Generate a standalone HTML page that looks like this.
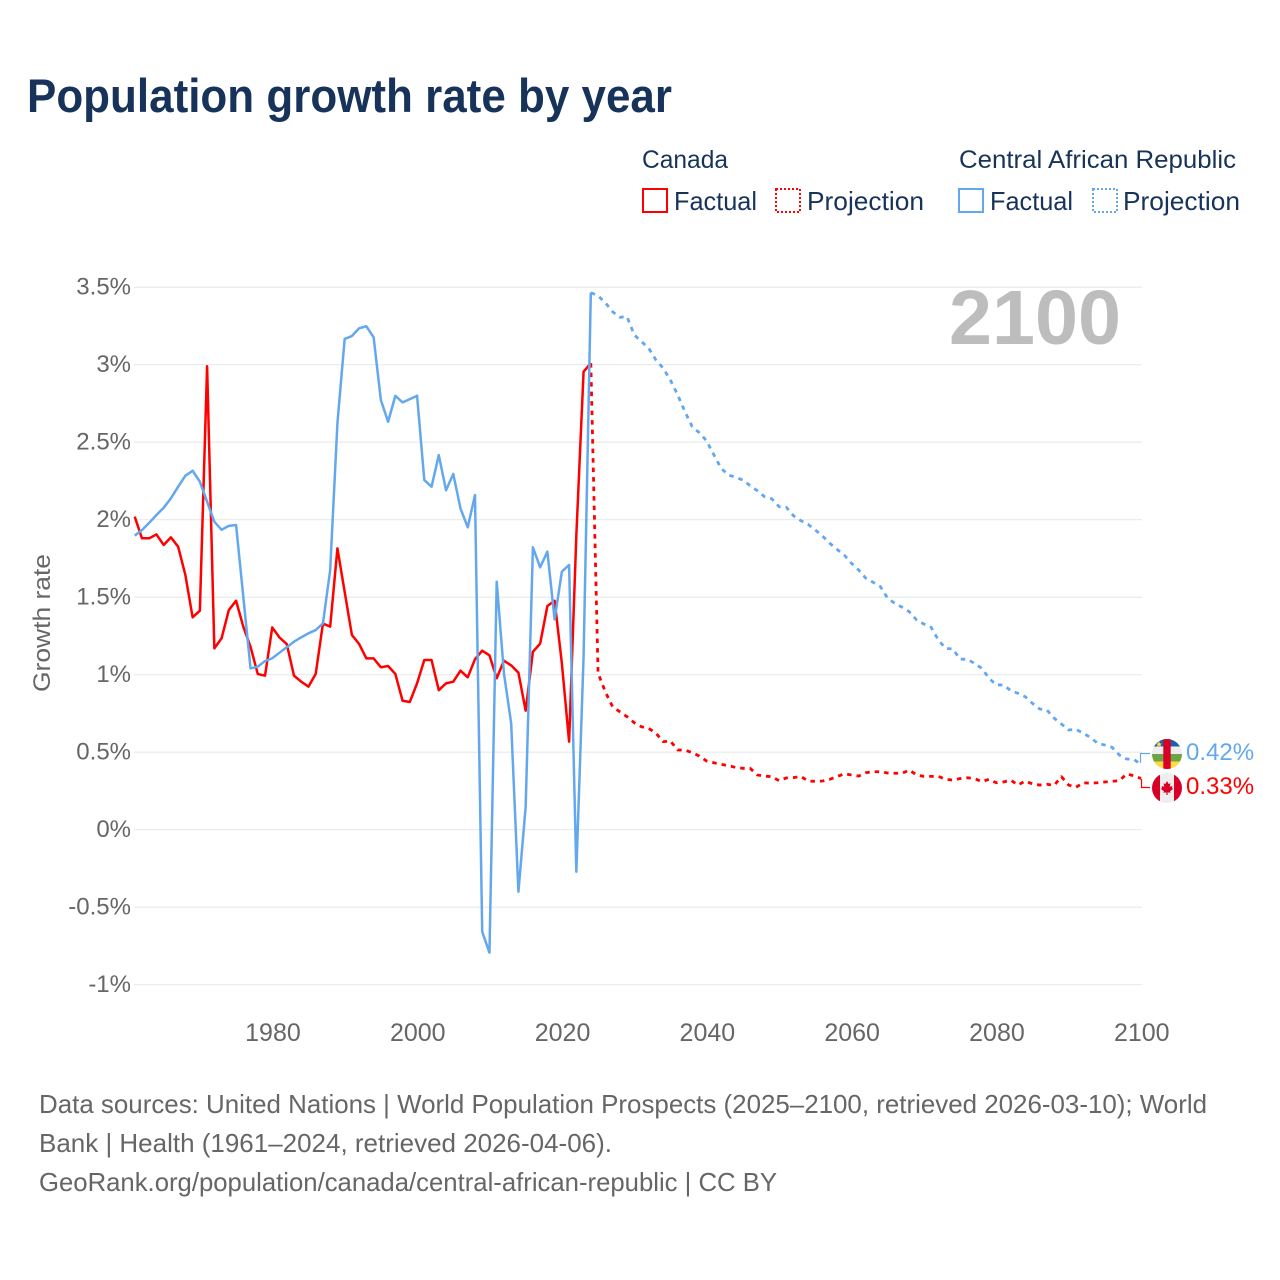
<!DOCTYPE html>
<html lang="en">
<head>
<meta charset="utf-8">
<title>Population growth rate by year</title>
<style>
html,body{margin:0;padding:0;background:#fff;}
svg{display:block;}
text{font-family:"Liberation Sans",sans-serif;}
</style>
</head>
<body>
<svg id="chart" xmlns="http://www.w3.org/2000/svg" width="1280" height="1280" viewBox="0 0 1280 1280">
  <rect x="0" y="0" width="1280" height="1280" fill="#ffffff"/>
  <text x="27" y="112" font-size="47" font-weight="700" fill="#18335a" textLength="645" lengthAdjust="spacingAndGlyphs">Population growth rate by year</text>

  <g>
    <text x="642" y="168" font-size="25" fill="#18335a" textLength="86" lengthAdjust="spacingAndGlyphs">Canada</text>
    <text x="959" y="168" font-size="25" fill="#18335a" textLength="277" lengthAdjust="spacingAndGlyphs">Central African Republic</text>
    <rect x="643" y="189" width="24" height="23" fill="none" stroke="#ff0000" stroke-width="2"/>
    <text x="674" y="210" font-size="26" fill="#18335a" textLength="83" lengthAdjust="spacingAndGlyphs">Factual</text>
    <rect x="776" y="189" width="24" height="23" fill="none" stroke="#ff0000" stroke-width="2" stroke-dasharray="2 2"/>
    <text x="807" y="210" font-size="26" fill="#18335a" textLength="117" lengthAdjust="spacingAndGlyphs">Projection</text>
    <rect x="959" y="189" width="24" height="23" fill="none" stroke="#63a8ef" stroke-width="2"/>
    <text x="990" y="210" font-size="26" fill="#18335a" textLength="83" lengthAdjust="spacingAndGlyphs">Factual</text>
    <rect x="1093" y="189" width="24" height="23" fill="none" stroke="#63a8ef" stroke-width="2" stroke-dasharray="2 2"/>
    <text x="1123" y="210" font-size="26" fill="#18335a" textLength="117" lengthAdjust="spacingAndGlyphs">Projection</text>
  </g>

  <g id="grid"></g>
  <g id="yticks"></g>
  <g id="xticks"></g>
  <text transform="translate(50,692) rotate(-90)" font-size="24" fill="#666666" textLength="138" lengthAdjust="spacingAndGlyphs">Growth rate</text>

  <text x="949" y="344" font-size="77" font-weight="700" fill="#bdbdbd" textLength="172" lengthAdjust="spacingAndGlyphs">2100</text>

  <g id="series"></g>

  <path d="M1140.5 763V753.5H1150" fill="none" stroke="#63a8ef" stroke-width="1.2"/>
  <path d="M1141.5 779V787.5H1150" fill="none" stroke="#ff0000" stroke-width="1.2"/>

  <defs>
    <clipPath id="clip-car"><circle cx="1167" cy="754" r="15"/></clipPath>
    <clipPath id="clip-can"><circle cx="1167" cy="788" r="15"/></clipPath>
  </defs>
  <g clip-path="url(#clip-car)">
    <rect x="1152" y="739" width="30" height="7.5" fill="#1f5fa8"/>
    <rect x="1152" y="746.5" width="30" height="7.5" fill="#eeeeee"/>
    <rect x="1152" y="754" width="30" height="7.5" fill="#6da544"/>
    <rect x="1152" y="761.5" width="30" height="7.5" fill="#ffda44"/>
    <rect x="1163.3" y="739" width="7.4" height="30" fill="#d80027"/>
    <polygon points="1159,741 1160,743.5 1162,743.5 1160.4,745 1161,747 1159,745.8 1157,747 1157.6,745 1156,743.5 1158,743.5" fill="#ffda44"/>
  </g>
  <g clip-path="url(#clip-can)">
    <rect x="1152" y="773" width="30" height="30" fill="#eeeeee"/>
    <rect x="1152" y="773" width="8" height="30" fill="#d80027"/>
    <rect x="1174" y="773" width="8" height="30" fill="#d80027"/>
    <polygon points="1167,781 1168.6,784 1170.4,783.2 1169.8,786.8 1172.4,786 1172,788 1173.2,788.8 1170,791.4 1170.6,792.8 1167.6,792.4 1167.6,795 1166.4,795 1166.4,792.4 1163.4,792.8 1164,791.4 1160.8,788.8 1162,788 1161.6,786 1164.2,786.8 1163.6,783.2 1165.4,784" fill="#d80027"/>
  </g>

  <text id="car-end-value" x="1186" y="760" font-size="24" fill="#63a8ef"></text>
  <text id="canada-end-value" x="1186" y="794" font-size="24" fill="#ff0000"></text>

  <g>
    <text x="39" y="1113" font-size="26" fill="#666666" textLength="1168" lengthAdjust="spacingAndGlyphs">Data sources: United Nations | World Population Prospects (2025–2100, retrieved 2026-03-10); World</text>
    <text x="39" y="1152" font-size="26" fill="#666666" textLength="573" lengthAdjust="spacingAndGlyphs">Bank | Health (1961–2024, retrieved 2026-04-06).</text>
    <text x="39" y="1191" font-size="26" fill="#666666" textLength="738" lengthAdjust="spacingAndGlyphs">GeoRank.org/population/canada/central-african-republic | CC BY</text>
  </g>
</svg>
<script>
const yTickValues = [-1, -0.5, 0, 0.5, 1, 1.5, 2, 2.5, 3, 3.5];
const yTickLabels = ['-1%', '-0.5%', '0%', '0.5%', '1%', '1.5%', '2%', '2.5%', '3%', '3.5%'];
const xTickYears = [1980, 2000, 2020, 2040, 2060, 2080, 2100];
const factualStartYear = 1961;
const projectionStartYear = 2024;
const canadaFactual = [
  2.02, 1.88, 1.88, 1.905, 1.837, 1.886, 1.826, 1.643, 1.37, 1.413,
  2.99, 1.17, 1.235, 1.417, 1.477, 1.31, 1.18, 1.004, 0.994, 1.305,
  1.24, 1.198, 0.994, 0.955, 0.923, 1.005, 1.33, 1.31, 1.815, 1.535,
  1.256, 1.198, 1.105, 1.105, 1.048, 1.056, 1.005, 0.832, 0.824, 0.944,
  1.095, 1.095, 0.90, 0.944, 0.955, 1.026, 0.983, 1.10, 1.155, 1.125,
  0.977, 1.09, 1.06, 1.013, 0.768, 1.148, 1.20, 1.443, 1.477, 1.073,
  0.568, 1.9, 2.955, 3.01
];
const carFactual = [
  1.897, 1.933, 1.98, 2.03, 2.077, 2.138, 2.213, 2.284, 2.316, 2.245,
  2.116, 1.987, 1.935, 1.96, 1.966, 1.503, 1.041, 1.052, 1.088, 1.106,
  1.142, 1.177, 1.213, 1.241, 1.267, 1.288, 1.331, 1.675, 2.622, 3.166,
  3.185, 3.235, 3.248, 3.177, 2.772, 2.632, 2.799, 2.757, 2.778, 2.80,
  2.256, 2.213, 2.417, 2.19, 2.295, 2.073, 1.951, 2.159, -0.658, -0.793,
  1.6, 1.009, 0.686, -0.4, 0.148, 1.822, 1.693, 1.794, 1.357, 1.665,
  1.708, -0.271, 1.116, 3.465
];
const canadaProjection = [
  3.01,
  1.01, 0.89, 0.794, 0.761, 0.729, 0.69, 0.664, 0.654, 0.622, 0.568,
  0.572, 0.514, 0.514, 0.497, 0.475, 0.443, 0.432, 0.422, 0.413, 0.402,
  0.396, 0.396, 0.353, 0.346, 0.342, 0.316, 0.334, 0.336, 0.344, 0.314,
  0.312, 0.314, 0.325, 0.342, 0.361, 0.353, 0.346, 0.368, 0.374, 0.374,
  0.366, 0.364, 0.364, 0.385, 0.353, 0.344, 0.344, 0.344, 0.325, 0.32,
  0.33, 0.335, 0.33, 0.31, 0.325, 0.303, 0.308, 0.32, 0.288, 0.314,
  0.295, 0.288, 0.293, 0.286, 0.342, 0.288, 0.273, 0.303, 0.30, 0.303,
  0.308, 0.312, 0.316, 0.36, 0.348, 0.33
];
const carProjection = [
  3.465,
  3.445, 3.40, 3.342, 3.306, 3.31, 3.192, 3.149, 3.106, 3.03, 2.977,
  2.90, 2.805, 2.697, 2.60, 2.561, 2.508, 2.418, 2.332, 2.288, 2.274,
  2.256, 2.22, 2.187, 2.148, 2.135, 2.084, 2.08, 2.025, 1.994, 1.97,
  1.934, 1.895, 1.848, 1.809, 1.772, 1.719, 1.675, 1.622, 1.596, 1.568,
  1.493, 1.46, 1.435, 1.406, 1.353, 1.327, 1.306, 1.224, 1.17, 1.166,
  1.1, 1.1, 1.073, 1.041, 0.977, 0.934, 0.934, 0.897, 0.88, 0.858,
  0.815, 0.779, 0.772, 0.719, 0.682, 0.643, 0.648, 0.622, 0.596, 0.557,
  0.546, 0.531, 0.482, 0.456, 0.454, 0.42
];
const canadaEndLabel = '0.33%';
const carEndLabel = '0.42%';

const SVG_NS = 'http://www.w3.org/2000/svg';
function xScale(year) { return 134.7 + (year - 1961) * 7.24; }
function yScale(value) { return 829.7 - value * 155; }
function linePath(startYear, values) {
  return values.map(function (v, i) {
    return (i ? 'L' : 'M') + xScale(startYear + i).toFixed(2) + ' ' + yScale(v).toFixed(2);
  }).join('');
}

const gridGroup = document.getElementById('grid');
const yTickGroup = document.getElementById('yticks');
yTickValues.forEach(function (v, i) {
  const line = document.createElementNS(SVG_NS, 'line');
  
  
  line.setAttribute('x1', 134);
  line.setAttribute('x2', 1142);
  line.setAttribute('y1', yScale(v));
  line.setAttribute('y2', yScale(v));
  line.setAttribute('stroke', '#e9e9e9');
  line.setAttribute('stroke-width', '1.2');
  gridGroup.appendChild(line);
  const label = document.createElementNS(SVG_NS, 'text');
  
  
  label.setAttribute('x', 131);
  label.setAttribute('y', yScale(v) + 7.5);
  label.setAttribute('text-anchor', 'end');
  label.setAttribute('font-size', '24');
  label.setAttribute('fill', '#666666');
  label.textContent = yTickLabels[i];
  yTickGroup.appendChild(label);
});

const xTickGroup = document.getElementById('xticks');
xTickYears.forEach(function (year) {
  const label = document.createElementNS(SVG_NS, 'text');
  
  
  label.setAttribute('x', xScale(year) + 0.7);
  label.setAttribute('y', 1041);
  label.setAttribute('text-anchor', 'middle');
  label.setAttribute('font-size', '25');
  label.setAttribute('fill', '#666666');
  label.textContent = String(year);
  xTickGroup.appendChild(label);
});

const seriesGroup = document.getElementById('series');
function addLine(name, startYear, values, color, dashed) {
  const path = document.createElementNS(SVG_NS, 'path');
  
  
  path.setAttribute('d', linePath(startYear, values));
  path.setAttribute('fill', 'none');
  path.setAttribute('stroke', color);
  path.setAttribute('stroke-width', dashed ? '2.8' : '2.5');
  path.setAttribute('stroke-linejoin', 'round');
  if (dashed) path.setAttribute('stroke-dasharray', '4.5 5');
  seriesGroup.appendChild(path);
}
addLine('canada-projection-line', projectionStartYear, canadaProjection, '#ff0000', true);
addLine('canada-factual-line', factualStartYear, canadaFactual, '#ff0000', false);
addLine('car-projection-line', projectionStartYear, carProjection, '#63a8ef', true);
addLine('car-factual-line', factualStartYear, carFactual, '#63a8ef', false);

document.getElementById('car-end-value').textContent = carEndLabel;
document.getElementById('canada-end-value').textContent = canadaEndLabel;
</script>
</body>
</html>
